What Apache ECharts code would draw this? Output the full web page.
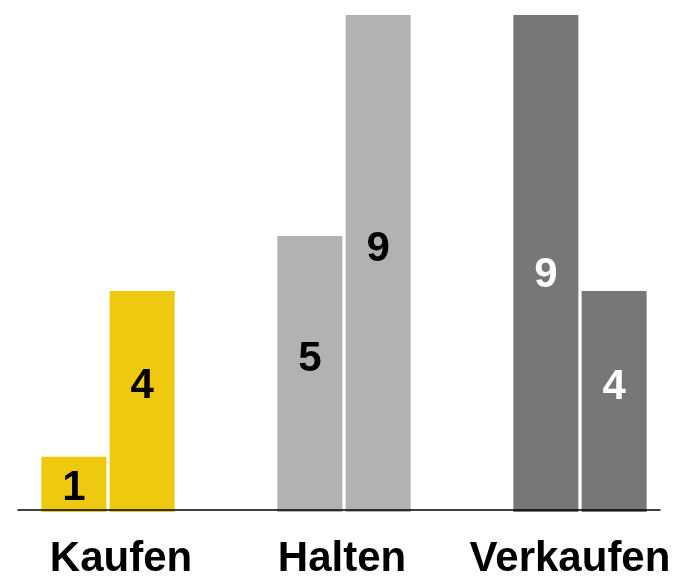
<!doctype html>
<html lang="de">
<head>
    <meta charset="UTF-8">
    <title>Kaufen / Halten / Verkaufen</title>
    <style>
        html, body { margin: 0; padding: 0; background: #fff; }
        #main { width: 677px; height: 579px; }
    </style>
</head>
<body>
    <div id="main"></div>
<script src="https://cdn.jsdelivr.net/npm/echarts@6/dist/echarts.min.js"></script>
<script type="text/javascript">
    // Daten
    const categories = ['Kaufen', 'Halten', 'Verkaufen'];
    const firstValues = [1, 5, 9];
    const secondValues = [4, 9, 4];

    // Farben je Kategorie
    const barColors = ['#EFC90F', '#B2B2B2', '#777777'];
    const labelColors = ['#000', '#000', '#fff'];

    const myChart = echarts.init(document.getElementById('main'));

    // kleine Verschiebungen der Beschriftungen (wie im Original)
    const catShift = [26, -4, -20];
    const firstDy = [4, -15, 12];
    const secondDy = [-15, -14, -14];

    const catData = categories.map((c, i) => ({
        value: c,
        textStyle: {
            padding: catShift[i] >= 0 ? [0, 0, 0, catShift[i]] : [0, -catShift[i], 0, 0]
        }
    }));

    const makeData = (values, dy) => values.map((v, i) => ({
        value: v,
        itemStyle: { color: barColors[i] },
        label: { color: labelColors[i], offset: [0, dy[i]] }
    }));

    const labelCfg = {
        show: true,
        position: 'inside',
        fontFamily: 'Liberation Sans',
        fontWeight: 'bold',
        fontSize: 42
    };

    const option = {
        animation: false,
        grid: [
            { left: 108, right: 97, top: 15, bottom: 67, outerBoundsMode: 'none' },
            { left: 18, right: 17, top: 15, bottom: 69, outerBoundsMode: 'none' }
        ],
        xAxis: [
            {
                type: 'category',
                data: catData,
                boundaryGap: false,
                axisLine: { show: false },
                axisTick: { show: false },
                axisLabel: {
                    margin: 26,
                    fontFamily: 'Liberation Sans',
                    fontWeight: 'bold',
                    fontSize: 42,
                    color: '#000',
                    interval: 0
                }
            },
            {
                type: 'value',
                gridIndex: 1,
                z: 5,
                axisLine: { show: true, onZero: false, lineStyle: { color: '#000', width: 1.5 } },
                axisTick: { show: false },
                axisLabel: { show: false },
                splitLine: { show: false }
            }
        ],
        yAxis: [
            { type: 'value', min: 0, max: 9, show: false },
            { type: 'value', gridIndex: 1, show: false }
        ],
        series: [
            {
                type: 'bar',
                barWidth: 65,
                barGap: '5%',
                z: 1,
                label: labelCfg,
                data: makeData(firstValues, firstDy)
            },
            {
                type: 'bar',
                barWidth: 65,
                z: 1,
                label: labelCfg,
                data: makeData(secondValues, secondDy)
            }
        ]
    };
    myChart.setOption(option);
</script>
</body>
</html>
